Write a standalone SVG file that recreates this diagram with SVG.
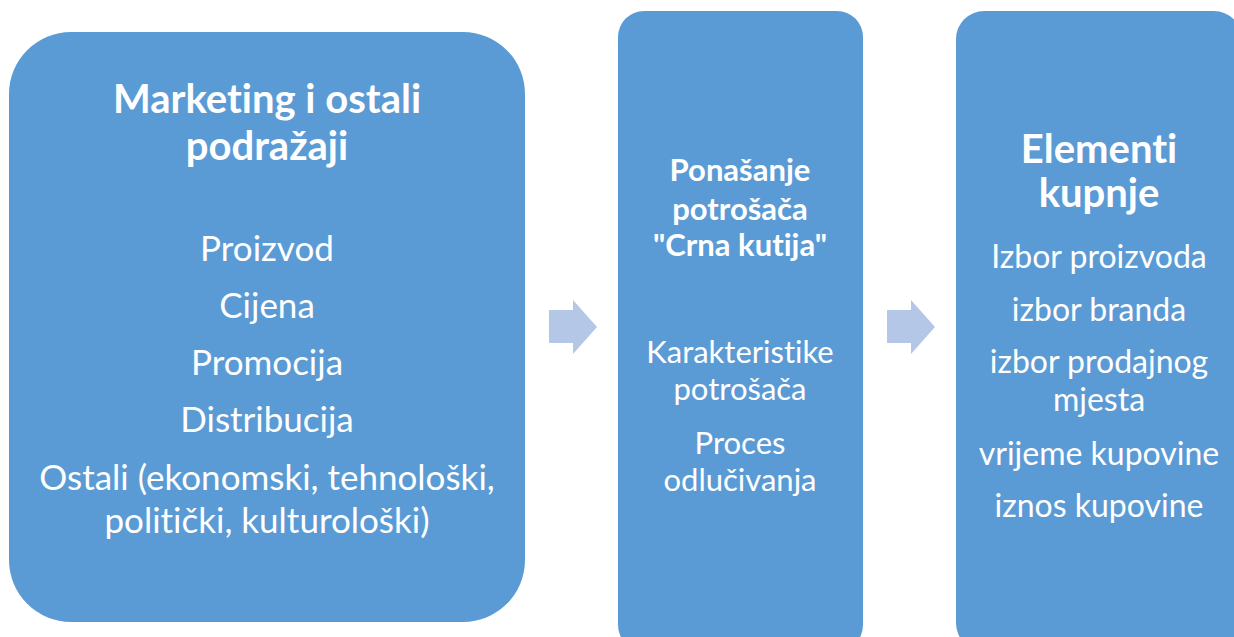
<svg xmlns="http://www.w3.org/2000/svg" width="1234" height="637" viewBox="0 0 1234 637">
<style>
.box{fill:#5B9BD5}
.arr{fill:#B4C7E7}
text{fill:#FFFFFF;font-family:Lato,"Open Sans","Liberation Sans",sans-serif;text-anchor:middle;font-variant-ligatures:none;font-feature-settings:"liga" 0}
.t1{font-size:40px;font-weight:bold}
.r1{font-size:35px}
.t2{font-size:31px;font-weight:bold}
.r2{font-size:31px}
.t3{font-size:40px;font-weight:bold}
.r3{font-size:32px}
</style>
<rect width="1234" height="637" fill="#FFFFFF"/>
<g id="connectors">
<polygon class="arr" points="549,310 573,310 573,300 597,327 573,354 573,343 549,343"/>
<polygon class="arr" points="887,310 911,310 911,300 935,327 911,354 911,343 887,343"/>
</g>
<g id="node-stimuli">
<rect class="box" x="9" y="32" width="516" height="590" rx="62" ry="62"/>
<text class="t1" x="267" y="113">Marketing i ostali</text>
<text class="t1" x="267" y="160">podražaji</text>
<text class="r1" x="267" y="261">Proizvod</text>
<text class="r1" x="267" y="318">Cijena</text>
<text class="r1" x="267" y="375">Promocija</text>
<text class="r1" x="267" y="432">Distribucija</text>
<text class="r1" x="267" y="490">Ostali (ekonomski, tehnološki,</text>
<text class="r1" x="267" y="533">politički, kulturološki)</text>
</g>
<g id="node-blackbox">
<rect class="box" x="618" y="11" width="245" height="640" rx="26" ry="26"/>
<text class="t2" x="740" y="181">Ponašanje</text>
<text class="t2" x="740" y="220">potrošača</text>
<text class="t2" x="740" y="256">"Crna kutija"</text>
<text class="r2" x="740" y="363">Karakteristike</text>
<text class="r2" x="740" y="400">potrošača</text>
<text class="r2" x="740" y="454">Proces</text>
<text class="r2" x="740" y="491">odlučivanja</text>
</g>
<g id="node-purchase">
<rect class="box" x="956" y="11" width="286" height="640" rx="28" ry="28"/>
<text class="t3" x="1099" y="163">Elementi</text>
<text class="t3" x="1099" y="207">kupnje</text>
<text class="r3" x="1099" y="268">Izbor proizvoda</text>
<text class="r3" x="1099" y="321">izbor branda</text>
<text class="r3" x="1099" y="373">izbor prodajnog</text>
<text class="r3" x="1099" y="411">mjesta</text>
<text class="r3" x="1099" y="465">vrijeme kupovine</text>
<text class="r3" x="1099" y="517">iznos kupovine</text>
</g>
</svg>
